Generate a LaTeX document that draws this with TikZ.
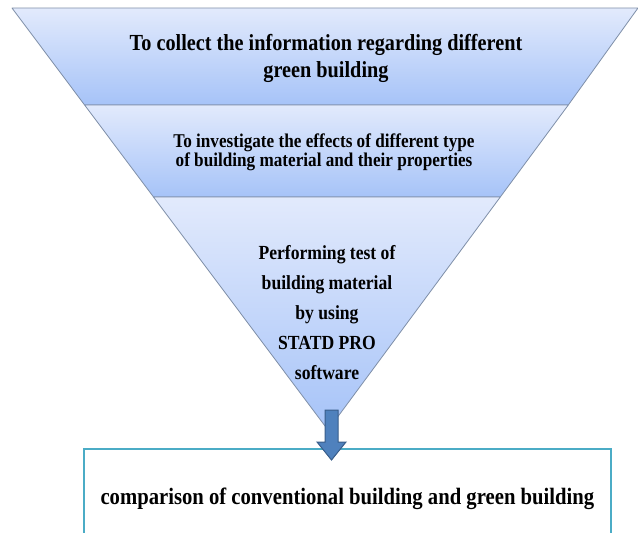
\documentclass[tikz,border=0pt]{standalone}
\usepackage{fontspec}
\setmainfont{Liberation Serif}[FakeStretch=0.88]
\usetikzlibrary{calc}
\definecolor{bandtop}{HTML}{E2EAFC}
\definecolor{bandbot}{HTML}{A6C3F8}
\definecolor{bandline}{HTML}{7F8FA8}
\definecolor{arrowfill}{HTML}{4F81BD}
\definecolor{arrowline}{HTML}{385D8A}
\definecolor{boxline}{HTML}{4BACC6}
\tikzset{
  band/.style={top color=bandtop, bottom color=bandbot, draw=bandline, line width=0.8pt, line join=round},
  bandtext/.style={align=center, inner sep=0pt, font=\bfseries},
  resultbox/.style={draw=boxline, line width=1.8pt, fill=white, minimum width=527pt, minimum height=100pt, inner sep=0pt, font=\bfseries\fontsize{23.5}{27}\selectfont},
  blockarrow/.style={fill=arrowfill, draw=arrowline, line width=1pt, line join=miter}
}
\begin{document}
\begin{tikzpicture}[x=1pt,y=-1pt]
\useasboundingbox (0,0) rectangle (638,533);
\clip (0,0) rectangle (638,533);
\fill[white] (0,0) rectangle (638,533);
% funnel bands
\coordinate (TL) at (12,8);
\coordinate (TR) at (638,8);
\coordinate (B1L) at (84.6,105);
\coordinate (B1R) at (568.3,105);
\coordinate (B2L) at (153.5,197);
\coordinate (B2R) at (500.3,197);
\coordinate (apex) at (328,430);
\path[band] (TL) -- (TR) -- (B1R) -- (B1L) -- cycle;
\path[band] (B1L) -- (B1R) -- (B2R) -- (B2L) -- cycle;
\path[band] (B2L) -- (B2R) -- (apex) -- cycle;
% texts
\node[bandtext, font=\bfseries\fontsize{23}{27}\selectfont] (t1) at (326,58)
  {To collect the information regarding different\\green building};
\node[bandtext, font=\bfseries\fontsize{19.5}{16.5}\selectfont] (t2) at (324,152)
  {To investigate the effects of different type\\of building material and their properties};
\node[bandtext, font=\bfseries\fontsize{20}{30}\selectfont] (t3) at (327,313)
  {Performing test of\\building material\\by using\\STATD PRO\\software};
% result box
\node[resultbox, anchor=north west] (box) at (83,448)
  {comparison of conventional building and green building};
% block arrow
\coordinate (atop) at (331.5,410);
\coordinate (atip) at (331.5,460);
\draw[blockarrow] ($(atop)+(-6.5,0)$) -- ($(atop)+(6.5,0)$) -- ($(atip)+(6.5,-18)$)
  -- ($(atip)+(14.5,-18)$) -- (atip) -- ($(atip)+(-14.5,-18)$) -- ($(atip)+(-6.5,-18)$) -- cycle;
\end{tikzpicture}
\end{document}
